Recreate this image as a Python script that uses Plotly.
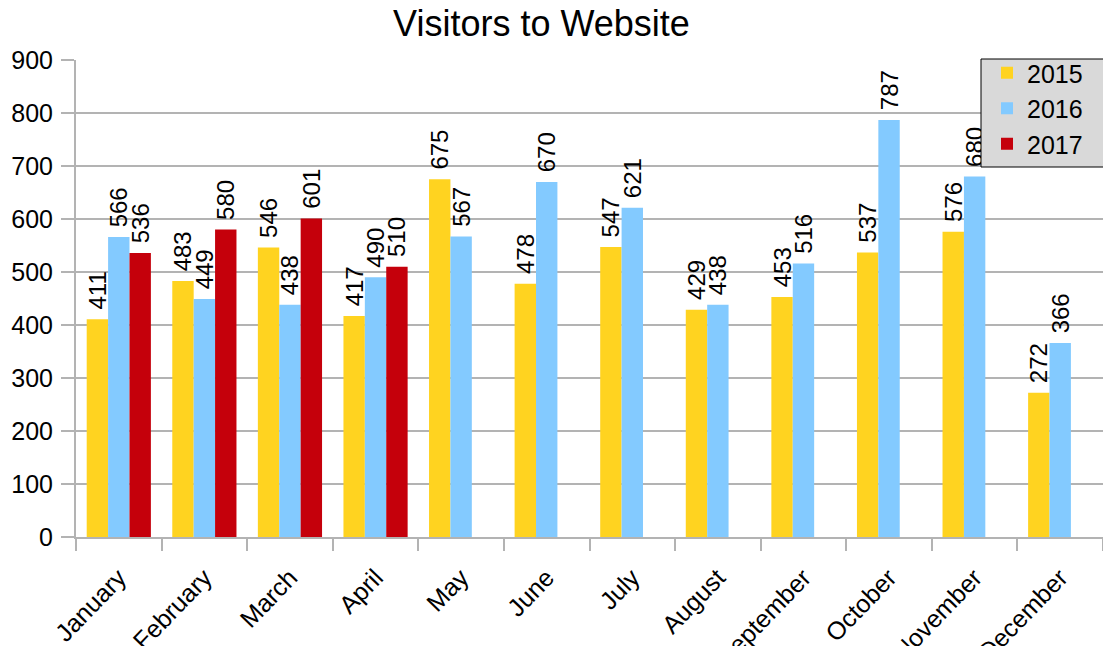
import plotly.graph_objects as go

months = ["January", "February", "March", "April", "May", "June", "July",
          "August", "September", "October", "November", "December"]
v2015 = [411, 483, 546, 417, 675, 478, 547, 429, 453, 537, 576, 272]
v2016 = [566, 449, 438, 490, 567, 670, 621, 438, 516, 787, 680, 366]
v2017 = [536, 580, 601, 510, None, None, None, None, None, None, None, None]

series = [("2015", v2015, "#FFD320"), ("2016", v2016, "#83CAFF"), ("2017", v2017, "#C5000B")]

FONT = "Liberation Sans, Arial, sans-serif"

fig = go.Figure()
for name, vals, color in series:
    fig.add_trace(go.Bar(
        x=months, y=vals, name=name,
        marker=dict(color=color, line=dict(width=0)),
        texttemplate=" %{y}", textposition="outside", textangle=-90,
        textfont=dict(family=FONT, size=24, color="#000000"),
        constraintext="none", cliponaxis=False,
    ))

W, H = 1103, 646
ml, mr, mt, mb = 76, 0, 60, 109
PW, PH = W - ml - mr, H - mt - mb


def px_x(p):
    return (p - ml) / PW


def px_y(p):
    return (H - mb - p) / PH


fig.update_layout(
    width=W, height=H,
    margin=dict(l=ml, r=mr, t=mt, b=mb, pad=0),
    paper_bgcolor="white", plot_bgcolor="white",
    barmode="group", bargap=0.25, bargroupgap=0,
    font=dict(family=FONT, size=25, color="#000000"),
    title=dict(text="Visitors to Website", font=dict(family=FONT, size=36, color="#000000"),
               xref="container", x=541.5 / W, xanchor="center",
               yref="container", y=1 - 23 / H, yanchor="middle"),
    legend=dict(x=px_x(987), xanchor="left", y=px_y(50), yanchor="top",
                bgcolor="rgba(0,0,0,0)", borderwidth=0,
                font=dict(family=FONT, size=25, color="#000000"),
                traceorder="normal"),
    showlegend=True,
    shapes=[dict(type="rect", xref="paper", yref="paper",
                 x0=px_x(981), x1=px_x(1115), y0=px_y(167), y1=px_y(59),
                 fillcolor="#D9D9D9", line=dict(color="#000000", width=1), layer="above")],
)
fig.update_yaxes(range=[0, 900], dtick=100, showgrid=True, gridcolor="#B3B3B3", gridwidth=1.5,
                 showline=True, linecolor="#B3B3B3", linewidth=2,
                 ticks="outside", ticklen=13, tickcolor="#B3B3B3", tickwidth=2,
                 tickfont=dict(family=FONT, size=25, color="#000000"),
                 ticklabelstandoff=3, zeroline=False, automargin=False)
fig.update_xaxes(type="category", showgrid=False, showline=True, linecolor="#B3B3B3", linewidth=2,
                 ticks="outside", ticklen=12, tickcolor="#B3B3B3", tickwidth=2,
                 tickson="boundaries", tickangle=-46, ticklabelstandoff=14,
                 tickfont=dict(family=FONT, size=25, color="#000000"),
                 automargin=False)

fig.write_html("out.html", config={"displayModeBar": False},
               post_script="document.body.style.margin='0px';")
